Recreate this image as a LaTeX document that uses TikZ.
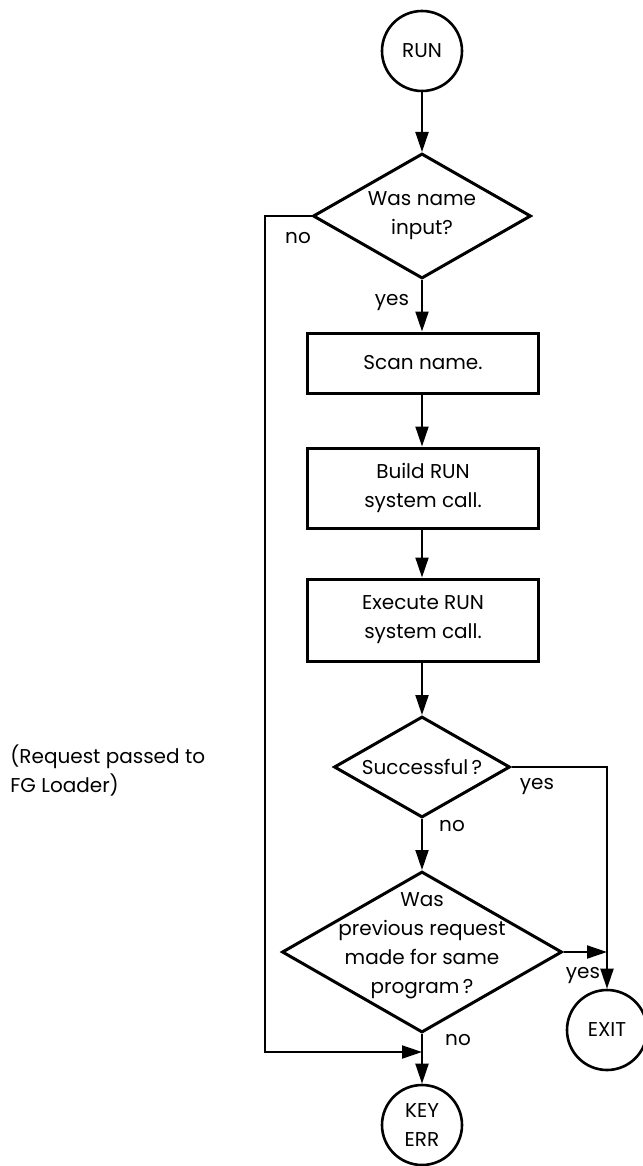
\documentclass[tikz,border=0pt]{standalone}
\usepackage{fontspec}
\setmainfont{Poppins}
\usetikzlibrary{shapes.geometric,arrows.meta}
\begin{document}
\begin{tikzpicture}[x=0.5pt,y=-0.5pt,
  every node/.style={font=\fontsize{10}{14.5}\selectfont},
  term/.style={circle,draw,line width=1.3pt,minimum size=40pt,inner sep=0pt,align=center},
  proc/.style={rectangle,draw,line width=1.5pt,minimum width=115.5pt,align=center,inner sep=0pt},
  dec/.style={diamond,draw,line width=1.5pt,inner sep=0pt},
  conn/.style={line width=1pt,-{Triangle[length=10pt,width=6.5pt]}},
  lbl/.style={inner sep=0pt}]
\useasboundingbox (0,0) rectangle (642,1166);
\node[term] (run) at (422,51) {RUN};
\node[dec,minimum width=109pt,minimum height=62.5pt,
  label={[align=center]center:Was name\\input?}] (d1) at (422,216) {};
\node[proc,minimum height=30pt] (scan) at (423,363) {Scan name.};
\node[proc,minimum height=40pt] (build) at (423,488) {Build RUN\\system call.};
\node[proc,minimum height=41pt] (exec) at (423,620) {Execute RUN\\system call.};
\node[dec,minimum width=88pt,minimum height=50.5pt,
  label={[align=center]center:Successful\,?}] (d2) at (422,767) {};
\node[dec,minimum width=140pt,minimum height=80.5pt,
  label={[align=center,yshift=3pt]center:Was\\previous request\\made for same\\program\,?}] (d3) at (422,952) {};
\node[term] (exit) at (607,1030) {EXIT};
\node[term] (key) at (422,1125) {KEY\\ERR};
\coordinate (lc) at (265,1052);
\coordinate (j) at (422,1052);
\draw[conn] (run) -- (d1);
\draw[conn] (d1.south) -- (d1.south |- scan.north);
\draw[conn] (scan.south -| d1) -- (build.north -| d1);
\draw[conn] (build.south -| d1) -- (exec.north -| d1);
\draw[conn] (exec.south -| d1) -- (d2);
\draw[conn] (d2) -- (d3);
\draw[conn] (d2.east) -| (exit);
\draw[conn] (d3.east) -- (d3.east -| exit);
\draw[conn] (d3) -- (key);
\draw[conn] (d1.west) -| (lc) -- (j);
\node[lbl] (n1) at (298,238) {no};
\node[lbl] (y1) at (392,303) {yes};
\node[lbl] (y2) at (537,787) {yes};
\node[lbl] (n2) at (452,826) {no};
\node[lbl] (y3) at (583,975) {yes};
\node[lbl] (n3) at (458,1040) {no};
\node[lbl,anchor=west,align=left] (note) at (10,771) {(Request passed to\\FG Loader)};
\end{tikzpicture}
\end{document}
